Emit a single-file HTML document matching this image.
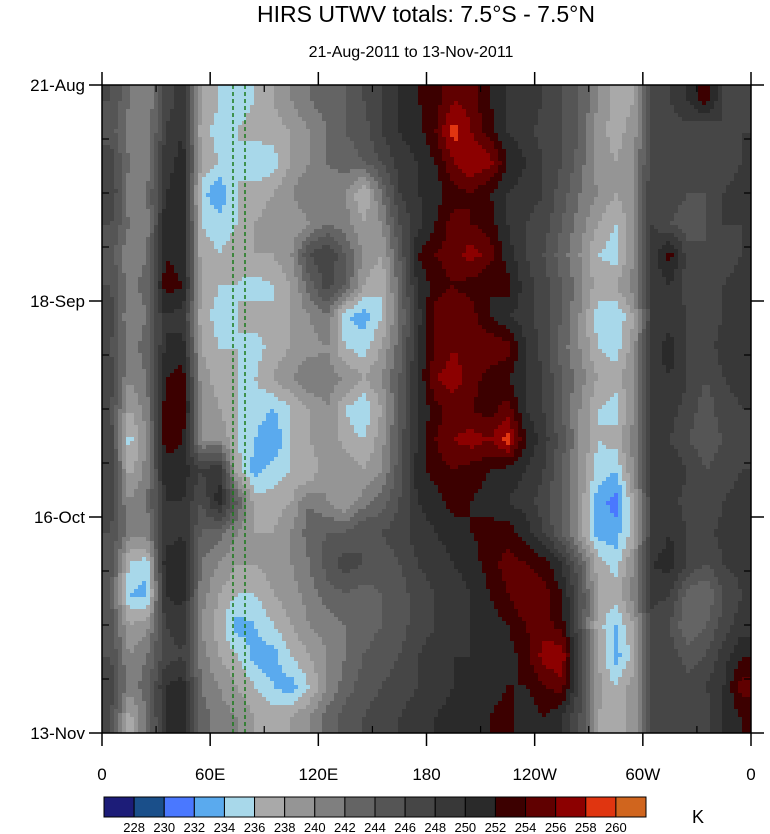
<!DOCTYPE html>
<html><head><meta charset="utf-8"><style>
body{margin:0;background:#fff;width:770px;height:834px;overflow:hidden;font-family:"Liberation Sans",sans-serif}
svg{display:block}
</style></head><body>
<svg id="chart" width="770" height="834">
<text x="426" y="22" font-size="23" text-anchor="middle">HIRS UTWV totals: 7.5°S - 7.5°N</text>
<text x="411" y="57" font-size="16" text-anchor="middle">21-Aug-2011 to 13-Nov-2011</text>
<defs><clipPath id="pc"><rect x="102" y="85" width="649" height="648"/></clipPath></defs>
<g id="field" clip-path="url(#pc)"></g>
<g id="axes"></g>
<g id="cbar"></g>
<text x="692" y="823" font-size="18">K</text>
</svg>
<script>
const levels=[228,230,232,234,236,238,240,242,244,246,248,250,252,254,256,258,260];
const colors=["#1c1c78","#1a4f8a","#4a78ff","#5aaaee","#a8d8ea","#a9a9a9","#959595","#7f7f7f","#646464","#555555","#464646","#383838","#2a2a2a","#3c0000","#600000","#8c0000","#e03510","#d0651e"];
const lonTicks=["0","60E","120E","180","120W","60W","0"];
const dateTicks=["21-Aug","18-Sep","16-Oct","13-Nov"];
const dateTickDays=[0,28,56,84];
const grid=[
[246,242,240,247,249,238,236,235,236,238,240,242,243,244,246,248,250,252,253,256,255,252,250,249,248,246,244,240,237,238,246,248,250,253,248,247],
[245,241,240,248,250,237,235,236,237,237,238,240,242,244,245,248,250,251,254,259,256,253,250,249,247,246,244,239,237,239,246,247,247,246,248,248],
[247,242,241,249,251,238,236,236,234,235,238,240,242,243,244,246,249,250,252,256,258,257,252,250,248,246,243,239,238,240,247,248,247,246,247,248],
[248,241,242,250,251,235,232,236,237,238,240,242,241,240,236,242,248,250,251,253,254,252,250,249,248,245,242,240,238,240,248,247,246,246,248,249],
[246,242,241,251,252,236,235,236,238,239,238,240,242,241,238,240,246,249,252,255,254,253,250,248,247,244,241,238,236,239,248,246,245,246,248,248],
[245,240,242,252,251,237,236,237,238,238,240,246,248,244,240,238,244,252,254,255,257,255,251,248,246,243,240,236,235,240,249,253,247,246,247,248],
[246,241,243,253,252,238,236,236,235,236,238,243,247,244,238,236,243,250,253,254,253,252,253,249,247,244,241,237,238,241,248,250,247,246,248,249],
[247,240,242,250,249,237,235,236,237,236,238,240,242,234,233,236,242,249,255,256,255,252,250,249,247,244,240,235,234,238,248,249,248,247,248,249],
[246,241,243,250,251,238,236,236,235,237,238,239,240,236,235,238,243,250,254,256,255,256,255,250,247,243,240,236,235,239,249,251,248,247,249,250],
[247,240,242,252,253,239,237,236,236,238,240,242,241,240,238,240,244,250,256,257,255,253,252,250,248,244,241,238,237,240,249,250,248,246,248,249],
[246,238,241,253,254,240,238,236,235,234,236,238,240,236,234,238,244,250,253,255,254,253,255,250,248,244,240,236,235,240,248,249,247,245,247,248],
[247,235,240,253,252,240,240,236,234,232,236,238,240,237,236,239,245,250,254,256,257,256,259,252,249,245,240,236,237,241,248,248,246,245,246,247],
[248,237,241,251,251,248,250,237,233,235,236,236,240,240,238,240,245,251,253,254,253,252,251,250,248,244,240,235,234,240,249,250,248,246,247,248],
[247,240,242,250,250,246,251,244,237,237,238,242,240,238,241,243,246,250,251,253,252,251,250,249,247,244,239,233,231,238,248,249,247,246,248,249],
[246,241,241,249,250,244,243,240,238,238,240,243,244,244,246,246,247,249,250,251,252,253,253,251,248,244,239,233,233,237,248,250,248,247,249,250],
[245,236,235,251,251,242,240,238,238,239,240,242,245,247,246,245,246,248,249,250,251,253,255,254,253,250,244,237,235,240,250,251,248,246,248,249],
[244,234,233,250,251,241,238,236,236,238,239,241,243,244,243,244,245,247,248,249,250,252,254,256,255,252,246,238,237,241,249,248,243,242,246,248],
[245,238,239,248,249,240,237,233,234,236,238,240,241,242,243,244,245,247,248,249,250,251,252,254,255,253,246,237,234,238,247,246,242,244,247,249],
[246,240,242,247,248,241,238,236,233,233,236,238,240,242,244,245,246,248,249,250,250,251,251,253,257,258,247,238,233,237,246,247,245,246,249,252],
[247,241,243,250,251,242,240,238,236,234,233,236,240,243,245,246,247,248,249,250,250,251,252,252,254,255,247,239,236,239,247,248,247,248,250,255],
[246,237,242,250,251,243,241,240,238,237,238,240,243,245,246,247,248,249,250,251,251,252,253,250,252,250,246,238,236,239,246,247,246,247,250,252]];
const X0=102,X1=751,Y0=85,Y1=733;
const xs=lon=>X0+lon/360*(X1-X0);
const ys=d=>Y0+d/84*(Y1-Y0);
const NS="http://www.w3.org/2000/svg";
function mk(t,a,p){const e=document.createElementNS(NS,t);for(const k in a)e.setAttribute(k,a[k]);p.appendChild(e);return e;}
function colorFor(v){let i=0;while(i<levels.length&&v>=levels[i])i++;return colors[i];}
const nr=grid.length,nc=grid[0].length;
function val(lon,day){
 let c=lon/360*nc-0.5,r=day/84*nr-0.5;
 c=Math.max(0,Math.min(nc-1,c));r=Math.max(0,Math.min(nr-1,r));
 const c0=Math.floor(c),r0=Math.floor(r),c1=Math.min(nc-1,c0+1),r1=Math.min(nr-1,r0+1),fc=c-c0,fr=r-r0;
 return (grid[r0][c0]*(1-fc)+grid[r0][c1]*fc)*(1-fr)+(grid[r1][c0]*(1-fc)+grid[r1][c1]*fc)*fr;
}
const field=document.getElementById('field');
const step=4;
for(let y=Y0;y<Y1;y+=step){for(let x=X0;x<X1;x+=step){
 const lon=(x+step/2-X0)/(X1-X0)*360,day=(y+step/2-Y0)/(Y1-Y0)*84;
 const r=mk('rect',{x:x,y:y,width:step+0.5,height:step+0.5,fill:colorFor(val(lon,day))},field);
 
 
}}
const axes=document.getElementById('axes');
[233,245].forEach(x=>{const l=mk('line',{x1:x,y1:Y0,x2:x,y2:Y1,stroke:"#1a7a1a","stroke-width":1.5,"stroke-dasharray":"4,3"},axes);
});
const fr=mk('rect',{x:X0,y:Y0,width:X1-X0,height:Y1-Y0,fill:"none",stroke:"#000","stroke-width":1.5},axes);

lonTicks.forEach((t,i)=>{const x=xs(i*60);
 mk('line',{x1:x,y1:Y1,x2:x,y2:Y1+13,stroke:"#000","stroke-width":1.5},axes);
 mk('line',{x1:x,y1:Y0,x2:x,y2:Y0-13,stroke:"#000","stroke-width":1.5},axes);
 const tx=mk('text',{x:x,y:Y1+47,"font-size":17,"text-anchor":"middle"},axes);tx.textContent=t;
 
 if(i<6){const xm=xs(i*60+30);
  mk('line',{x1:xm,y1:Y1,x2:xm,y2:Y1-7,stroke:"#000","stroke-width":1.2},axes);
  mk('line',{x1:xm,y1:Y0,x2:xm,y2:Y0+7,stroke:"#000","stroke-width":1.2},axes);}
});
dateTicks.forEach((t,i)=>{const y=ys(dateTickDays[i]);
 mk('line',{x1:X0-13,y1:y,x2:X0,y2:y,stroke:"#000","stroke-width":1.5},axes);
 mk('line',{x1:X1,y1:y,x2:X1+13,y2:y,stroke:"#000","stroke-width":1.5},axes);
 const tx=mk('text',{x:85,y:y+6,"font-size":17,"text-anchor":"end"},axes);tx.textContent=t;
 
});
for(let d=7;d<84;d+=7){if(d%28===0)continue;const y=ys(d);
 mk('line',{x1:X0,y1:y,x2:X0+7,y2:y,stroke:"#000","stroke-width":1.2},axes);
 mk('line',{x1:X1-7,y1:y,x2:X1,y2:y,stroke:"#000","stroke-width":1.2},axes);}
const cb=document.getElementById('cbar');
const bw=(646-104)/colors.length;
colors.forEach((c,i)=>{const r=mk('rect',{x:104+i*bw,y:797,width:bw,height:20,fill:c,stroke:"#000","stroke-width":1},cb);
 });
levels.forEach((v,i)=>{const t=mk('text',{x:104+(i+1)*bw,y:832,"font-size":13,"text-anchor":"middle"},cb);t.textContent=v;
 });
</script>
</body></html>
